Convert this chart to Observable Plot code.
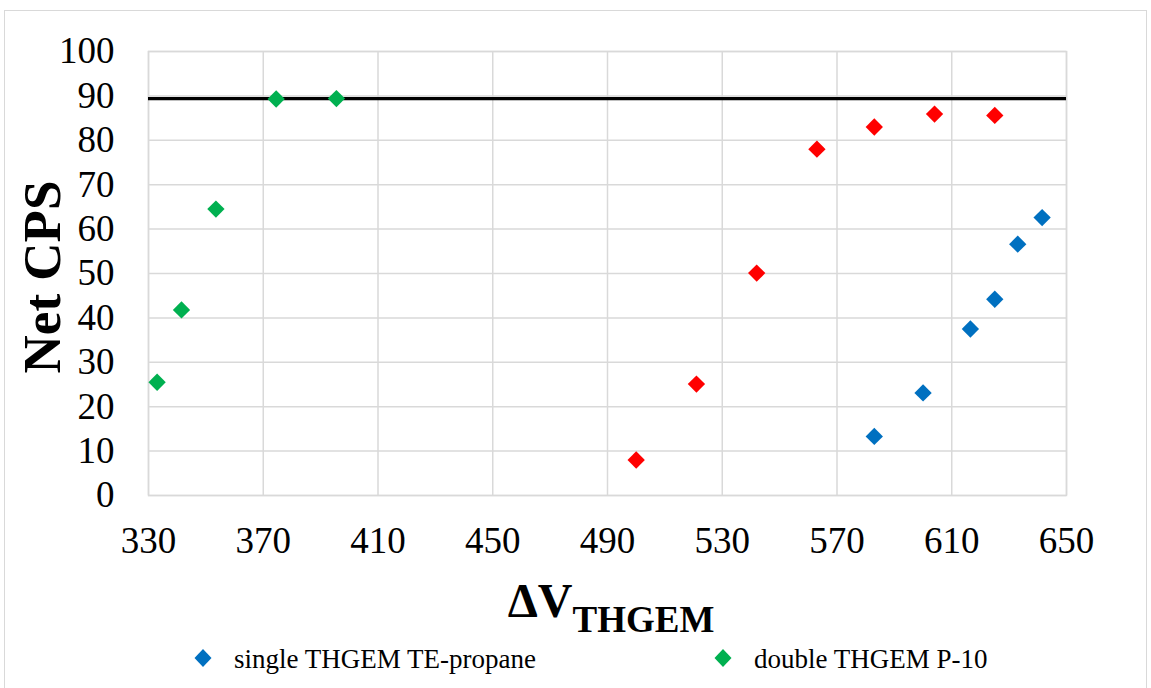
<!DOCTYPE html>
<html>
<head>
<meta charset="utf-8">
<script src="https://cdn.jsdelivr.net/npm/d3@7"></script>
<script src="https://cdn.jsdelivr.net/npm/@observablehq/plot@0.6"></script>
</head>
<body style="margin:0;padding:0;background:#fff;font-family:'Liberation Serif';">
<div id="wrap" style="position:relative;width:1151px;height:688px;overflow:hidden;font-family:'Liberation Serif';color:#000;">
  <div style="position:absolute;left:4px;top:10px;width:1143px;height:700px;border:1.5px solid #d9d9d9;box-sizing:border-box;"></div>
  <div id="chart" style="position:absolute;left:0;top:0;"></div>
  <div id="ylab" style="position:absolute;left:42px;top:276.5px;transform:translate(-50%,-50%) rotate(-90deg);font-family:'Liberation Serif';font-weight:bold;font-size:53px;line-height:1;white-space:nowrap;">Net CPS</div>
  <div id="xlab" style="position:absolute;left:611px;top:576.5px;transform:translateX(-50%);font-family:'Liberation Serif';font-weight:bold;font-size:48px;line-height:1;white-space:nowrap;">ΔV<span style="font-size:37px;position:relative;top:15px;">THGEM</span></div>
  <div id="legend"></div>
</div>
<script>
// ---- Data ----
const blueX = [583, 600, 616.5, 625, 633, 641.5];
const blueY = [13.3, 23.1, 37.5, 44.2, 56.6, 62.6];
const redX = [500, 521, 542, 563, 583, 604, 625];
const redY = [8.0, 25.1, 50.1, 78.0, 83.0, 85.9, 85.6];
const greenX = [333, 341.5, 353.5, 374.5, 395.5];
const greenY = [25.5, 41.8, 64.5, 89.3, 89.4];
const refLine = [89.4];
const xTicks = [330, 370, 410, 450, 490, 530, 570, 610, 650];
const yTicks = [0, 10, 20, 30, 40, 50, 60, 70, 80, 90, 100];
const legendLabels = ["single THGEM TE-propane", "double THGEM P-10"];

const colors = { blue: "#0070C0", red: "#FF0000", green: "#00B050" };

const toRows = (xs, ys) => xs.map((x, i) => ({ x, y: ys[i] }));
const blue = toRows(blueX, blueY);
const red = toRows(redX, redY);
const green = toRows(greenX, greenY);

const chart = Plot.plot({
  width: 1151,
  height: 570,
  marginLeft: 148,
  marginRight: 85,
  marginTop: 51,
  marginBottom: 75,
  style: { fontFamily: "'Liberation Serif'", fontSize: "37px", color: "#000", background: "transparent" },
  x: { domain: [330, 650], ticks: xTicks },
  y: { domain: [0, 100], ticks: yTicks },
  marks: [
    Plot.gridX(xTicks, { stroke: "#d9d9d9", strokeOpacity: 1, strokeWidth: 1.5 }),
    Plot.gridY(yTicks, { stroke: "#d9d9d9", strokeOpacity: 1, strokeWidth: 1.5 }),
    Plot.frame({ stroke: "#d9d9d9", strokeWidth: 1.5 }),
    Plot.axisX(xTicks, { tickSize: 0, tickPadding: 31, label: null, fontSize: 37, fill: "#000" }),
    Plot.axisY(yTicks, { tickSize: 0, tickPadding: 34, label: null, fontSize: 37, fill: "#000" }),
    Plot.ruleY(refLine, { stroke: "#000", strokeWidth: 3.2, x1: 330, x2: 650 }),
    Plot.dot(green, { x: "x", y: "y", symbol: "diamond2", r: 7.8, fill: colors.green, stroke: null }),
    Plot.dot(red, { x: "x", y: "y", symbol: "diamond2", r: 7.8, fill: colors.red, stroke: null }),
    Plot.dot(blue, { x: "x", y: "y", symbol: "diamond2", r: 7.8, fill: colors.blue, stroke: null })
  ]
});
chart.querySelectorAll("text").forEach(t => t.setAttribute("font-family", "Liberation Serif"));
document.getElementById("chart").appendChild(chart);

// ---- Legend ----
const legend = document.getElementById("legend");
const legItems = [
  { label: legendLabels[0], color: colors.blue, cx: 203, tx: 234 },
  { label: legendLabels[1], color: colors.green, cx: 723, tx: 754 }
];
legItems.forEach(it => {
  const s = document.createElementNS("http://www.w3.org/2000/svg", "svg");
  s.setAttribute("width", 20);
  s.setAttribute("height", 20);
  s.style.position = "absolute";
  s.style.left = (it.cx - 10) + "px";
  s.style.top = (658 - 10) + "px";
  const p = document.createElementNS("http://www.w3.org/2000/svg", "path");
  p.setAttribute("d", "M10,1 L18.5,10 L10,19 L1.5,10 Z");
  p.setAttribute("fill", it.color);
  s.appendChild(p);
  legend.appendChild(s);
  const t = document.createElement("div");
  t.style.cssText = "position:absolute;top:645.7px;font-family:'Liberation Serif';font-size:27px;line-height:1;white-space:nowrap;left:" + it.tx + "px";
  t.textContent = it.label;
  legend.appendChild(t);
});
</script>
</body>
</html>
